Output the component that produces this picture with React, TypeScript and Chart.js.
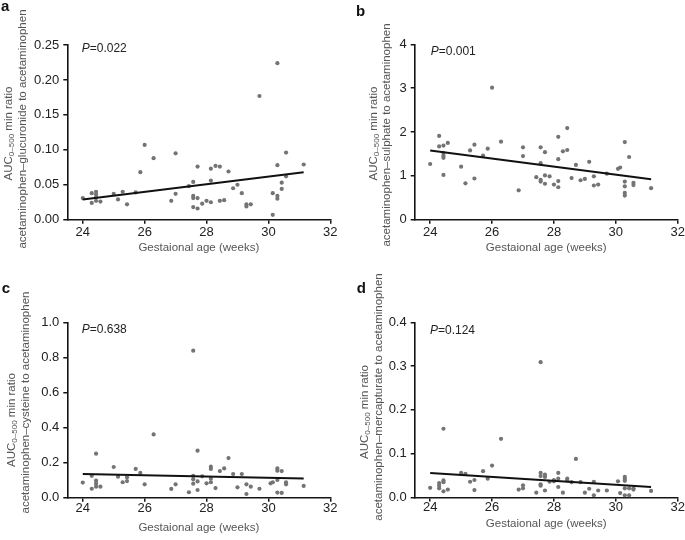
import React, { useEffect, useRef } from 'react';
import { Chart, registerables } from 'chart.js';

Chart.register(...registerables);

const FONT = '"Liberation Sans", Arial, Helvetica, sans-serif';
Chart.defaults.font.family = FONT;

// ---------- shared ----------
const xTicks = [24, 26, 28, 30, 32];
const xTickLabels = ['24', '26', '28', '30', '32'];
const fitX = [24.0, 31.14];
const xTitle = 'Gestaional age (weeks)';

// ---------- panel a ----------
const aX = [24.0, 24.29, 24.29, 24.43, 24.43, 24.43, 24.43, 24.57, 25.0, 25.14, 25.29, 25.43, 25.71, 25.86, 26.0, 26.29, 26.86, 27.0, 27.0, 27.43, 27.57, 27.57, 27.57, 27.57, 27.71, 27.71, 27.71, 27.86, 28.0, 28.14, 28.14, 28.14, 28.29, 28.43, 28.43, 28.57, 28.71, 28.86, 29.0, 29.14, 29.29, 29.29, 29.43, 29.71, 30.14, 30.14, 30.29, 30.29, 30.29, 30.29, 30.43, 30.43, 30.57, 30.57, 31.14];
const aY = [0.031, 0.038, 0.024, 0.040, 0.036, 0.032, 0.027, 0.026, 0.037, 0.029, 0.040, 0.022, 0.039, 0.068, 0.107, 0.088, 0.027, 0.095, 0.037, 0.048, 0.054, 0.034, 0.031, 0.018, 0.076, 0.031, 0.016, 0.023, 0.027, 0.073, 0.056, 0.025, 0.077, 0.076, 0.027, 0.028, 0.069, 0.045, 0.050, 0.038, 0.022, 0.019, 0.022, 0.177, 0.038, 0.007, 0.224, 0.078, 0.034, 0.030, 0.053, 0.044, 0.096, 0.062, 0.079];
const aFitY = [0.029, 0.068];
const aYTicks = [0, 0.05, 0.1, 0.15, 0.2, 0.25];
const aYTickLabels = ['0.00', '0.05', '0.10', '0.15', '0.20', '0.25'];

// ---------- panel b ----------
const bX = [24.0, 24.29, 24.29, 24.43, 24.43, 24.43, 24.43, 24.43, 24.57, 25.0, 25.14, 25.29, 25.43, 25.43, 25.71, 25.86, 26.0, 26.29, 26.86, 27.0, 27.0, 27.43, 27.57, 27.57, 27.57, 27.57, 27.71, 27.71, 27.71, 27.86, 28.0, 28.14, 28.14, 28.14, 28.14, 28.29, 28.43, 28.43, 28.57, 28.71, 28.86, 29.0, 29.14, 29.29, 29.29, 29.43, 29.71, 30.07, 30.14, 30.29, 30.29, 30.29, 30.29, 30.29, 30.43, 30.57, 30.57, 31.14];
const bY = [1.27, 1.91, 1.67, 1.69, 1.52, 1.46, 1.41, 1.02, 1.75, 1.21, 0.83, 1.58, 1.71, 0.94, 1.46, 1.62, 3.01, 1.78, 0.67, 1.65, 1.45, 0.97, 1.65, 1.29, 0.91, 0.87, 1.54, 1.01, 0.82, 0.99, 0.80, 1.89, 1.38, 0.88, 0.74, 1.56, 2.09, 1.59, 0.95, 1.25, 0.90, 0.93, 1.32, 0.99, 0.78, 0.80, 1.05, 1.16, 1.19, 1.77, 0.87, 0.76, 0.61, 0.55, 1.43, 0.84, 0.79, 0.72];
const bFitY = [1.58, 0.92];
const bYTicks = [0, 1, 2, 3, 4];
const bYTickLabels = ['0', '1', '2', '3', '4'];

// ---------- panel c ----------
const cX = [24.0, 24.29, 24.29, 24.43, 24.43, 24.43, 24.43, 24.57, 25.0, 25.14, 25.29, 25.43, 25.43, 25.71, 25.86, 26.0, 26.29, 26.86, 27.0, 27.43, 27.57, 27.57, 27.57, 27.57, 27.71, 27.71, 27.71, 27.86, 28.0, 28.14, 28.14, 28.14, 28.14, 28.29, 28.43, 28.57, 28.71, 28.86, 29.0, 29.14, 29.29, 29.29, 29.43, 29.71, 30.07, 30.14, 30.29, 30.29, 30.29, 30.29, 30.43, 30.43, 30.57, 30.57, 31.14];
const cY = [0.086, 0.125, 0.051, 0.251, 0.097, 0.080, 0.063, 0.063, 0.175, 0.120, 0.088, 0.116, 0.095, 0.164, 0.141, 0.076, 0.361, 0.050, 0.076, 0.031, 0.838, 0.125, 0.105, 0.080, 0.268, 0.093, 0.044, 0.122, 0.082, 0.177, 0.164, 0.108, 0.088, 0.055, 0.152, 0.167, 0.226, 0.135, 0.059, 0.135, 0.076, 0.021, 0.063, 0.051, 0.082, 0.088, 0.167, 0.154, 0.101, 0.029, 0.152, 0.027, 0.088, 0.076, 0.067];
const cFitY = [0.135, 0.11];
const cYTicks = [0, 0.2, 0.4, 0.6, 0.8, 1.0];
const cYTickLabels = ['0.0', '0.2', '0.4', '0.6', '0.8', '1.0'];

// ---------- panel d ----------
const dX = [24.0, 24.29, 24.29, 24.29, 24.43, 24.43, 24.43, 24.43, 24.57, 25.0, 25.14, 25.29, 25.43, 25.43, 25.71, 25.86, 26.0, 26.29, 26.86, 27.0, 27.0, 27.43, 27.57, 27.57, 27.57, 27.57, 27.57, 27.71, 27.71, 27.71, 27.86, 28.0, 28.0, 28.14, 28.14, 28.14, 28.29, 28.43, 28.43, 28.57, 28.71, 28.86, 29.0, 29.14, 29.29, 29.29, 29.43, 29.71, 30.07, 30.14, 30.29, 30.29, 30.29, 30.29, 30.29, 30.43, 30.43, 30.57, 30.57, 31.14];
const dY = [0.022, 0.033, 0.027, 0.021, 0.157, 0.039, 0.035, 0.014, 0.018, 0.056, 0.054, 0.036, 0.040, 0.017, 0.060, 0.043, 0.073, 0.134, 0.018, 0.028, 0.021, 0.011, 0.309, 0.056, 0.049, 0.030, 0.027, 0.052, 0.047, 0.016, 0.036, 0.040, 0.037, 0.056, 0.043, 0.024, 0.011, 0.043, 0.039, 0.035, 0.088, 0.035, 0.011, 0.020, 0.036, 0.005, 0.016, 0.016, 0.037, 0.010, 0.047, 0.042, 0.038, 0.021, 0.005, 0.021, 0.005, 0.021, 0.018, 0.015];
const dFitY = [0.056, 0.024];
const dYTicks = [0, 0.1, 0.2, 0.3, 0.4];
const dYTickLabels = ['0.0', '0.1', '0.2', '0.3', '0.4'];

const CW = 345;
const CH = 270;

type PanelDef = {
  left: number; top: number;
  xs: number[]; ys: number[]; fitY: number[];
  yTicks: number[]; yLabels: string[]; yMax: number;
  area: { left: number; top: number; right: number; bottom: number };
  xTickPad: number;
  letter: string; letterX: number; letterY: number;
  pValue: string; pX: number; pY: number;
  yLine2: string;
  y1X: number; y1Y: number; y2X: number; y2Y: number;
  xTitleY: number;
};

const panels: PanelDef[] = [
  {
    left: 0, top: 0, xs: aX, ys: aY, fitY: aFitY, yTicks: aYTicks, yLabels: aYTickLabels, yMax: 0.25,
    area: { left: 67.3, top: 45, right: 330.3, bottom: 219.7 }, xTickPad: 1,
    letter: 'a', letterX: 1, letterY: 11, pValue: '0.022', pX: 81.7, pY: 48.3,
    yLine2: 'acetaminophen\u2013glucuronide to acetaminophen',
    y1X: 8.8, y1Y: 133.5, y2X: 22.5, y2Y: 129, xTitleY: 247.5,
  },
  {
    left: 345, top: 0, xs: bX, ys: bY, fitY: bFitY, yTicks: bYTicks, yLabels: bYTickLabels, yMax: 4,
    area: { left: 69.7, top: 44.3, right: 332.7, bottom: 219.7 }, xTickPad: 1,
    letter: 'b', letterX: 11, letterY: 16, pValue: '0.001', pX: 85.7, pY: 51.7,
    yLine2: 'acetaminophen\u2013sulphate to acetaminophen',
    y1X: 29, y1Y: 133.5, y2X: 41.7, y2Y: 135, xTitleY: 247.5,
  },
  {
    left: 0, top: 270, xs: cX, ys: cY, fitY: cFitY, yTicks: cYTicks, yLabels: cYTickLabels, yMax: 1.0,
    area: { left: 67.3, top: 52.3, right: 330.3, bottom: 227.7 }, xTickPad: -1,
    letter: 'c', letterX: 1.7, letterY: 22.7, pValue: '0.638', pX: 81.7, pY: 60,
    yLine2: 'acetaminophen\u2013cysteine to acetaminophen',
    y1X: 12, y1Y: 150, y2X: 25.5, y2Y: 132.5, xTitleY: 258,
  },
  {
    left: 345, top: 270, xs: dX, ys: dY, fitY: dFitY, yTicks: dYTicks, yLabels: dYTickLabels, yMax: 0.4,
    area: { left: 69.7, top: 52.3, right: 332.7, bottom: 227.5 }, xTickPad: -2,
    letter: 'd', letterX: 11.7, letterY: 23.3, pValue: '0.124', pX: 85, pY: 61,
    yLine2: 'acetaminophen\u2013mercapturate to acetaminophen',
    y1X: 19.7, y1Y: 142, y2X: 34.2, y2Y: 127, xTitleY: 254,
  },
];

const textPlugin = {
  id: 'panelText',
  afterDraw(chart: any, _args: any, opts: any) {
    const ctx: CanvasRenderingContext2D = chart.ctx;
    const area = chart.chartArea;
    ctx.save();
    // panel letter
    ctx.fillStyle = '#111';
    ctx.textAlign = 'left';
    ctx.textBaseline = 'alphabetic';
    ctx.font = `bold 15px ${FONT}`;
    ctx.fillText(opts.letter, opts.letterX, opts.letterY);
    // P value
    ctx.textBaseline = 'middle';
    ctx.fillStyle = '#222';
    ctx.font = `italic 12px ${FONT}`;
    ctx.fillText('P', opts.pX, opts.pY);
    const pw = ctx.measureText('P').width;
    ctx.font = `12px ${FONT}`;
    ctx.fillText('=' + opts.pValue, opts.pX + pw, opts.pY);
    // x title
    ctx.fillStyle = '#555';
    ctx.font = `11.5px ${FONT}`;
    ctx.textAlign = 'center';
    ctx.fillText(opts.xTitle, (area.left + area.right) / 2, opts.xTitleY);
    // y title line 1 (with subscript)
    const parts = [
      { text: 'AUC', size: 11.5, dy: 0 },
      { text: '0\u2013500', size: 8, dy: 3 },
      { text: ' min ratio', size: 11.5, dy: 0 },
    ];
    ctx.save();
    ctx.translate(opts.y1X, opts.y1Y);
    ctx.rotate(-Math.PI / 2);
    ctx.textAlign = 'left';
    let total = 0;
    for (const p of parts) {
      ctx.font = `${p.size}px ${FONT}`;
      total += ctx.measureText(p.text).width;
    }
    let x = -total / 2;
    for (const p of parts) {
      ctx.font = `${p.size}px ${FONT}`;
      ctx.fillText(p.text, x, p.dy);
      x += ctx.measureText(p.text).width;
    }
    ctx.restore();
    // y title line 2
    ctx.save();
    ctx.translate(opts.y2X, opts.y2Y);
    ctx.rotate(-Math.PI / 2);
    ctx.textAlign = 'center';
    ctx.font = `11.5px ${FONT}`;
    ctx.fillText(opts.yLine2, 0, 0);
    ctx.restore();
    ctx.restore();
  },
};

const AXIS = '#141414';

function Panel({ p }: { p: PanelDef }) {
  const ref = useRef<HTMLCanvasElement>(null);
  useEffect(() => {
    const XH = 25;
    const chart = new Chart(ref.current as HTMLCanvasElement, {
      type: 'scatter',
      data: {
        datasets: [
          {
            type: 'line',
            data: fitX.map((x, i) => ({ x, y: p.fitY[i] })),
            borderColor: '#111',
            borderWidth: 2,
            pointRadius: 0,
            fill: false,
            order: 0,
          } as any,
          {
            type: 'scatter',
            data: p.xs.map((x, i) => ({ x, y: p.ys[i] })),
            backgroundColor: '#747474',
            borderWidth: 0,
            pointRadius: 2.1,
            order: 1,
          } as any,
        ],
      },
      options: {
        responsive: false,
        animation: false,
        events: [],
        layout: {
          padding: {
            left: 0,
            top: p.area.top,
            right: CW - p.area.right,
            bottom: CH - p.area.bottom - XH,
          },
        },
        plugins: {
          legend: { display: false },
          tooltip: { enabled: false },
          panelText: {
            letter: p.letter, letterX: p.letterX, letterY: p.letterY,
            pValue: p.pValue, pX: p.pX, pY: p.pY,
            xTitle, xTitleY: p.xTitleY,
            yLine2: p.yLine2, y1X: p.y1X, y1Y: p.y1Y, y2X: p.y2X, y2Y: p.y2Y,
          },
        } as any,
        scales: {
          x: {
            type: 'linear',
            min: 23.5,
            max: 32,
            afterFit: (s: any) => { s.height = XH; },
            afterBuildTicks: (s: any) => { s.ticks = xTicks.map((v) => ({ value: v })); },
            ticks: {
              callback: (_v: any, i: number) => xTickLabels[i],
              font: { size: 13 },
              color: '#222',
              padding: p.xTickPad,
              maxRotation: 0,
              autoSkip: false,
            },
            grid: { drawOnChartArea: false, drawTicks: true, tickLength: 4, color: AXIS, lineWidth: 1.5 },
            border: { display: true, color: AXIS, width: 1.6 },
          },
          y: {
            type: 'linear',
            min: 0,
            max: p.yMax,
            afterFit: (s: any) => { s.width = p.area.left; },
            afterBuildTicks: (s: any) => { s.ticks = p.yTicks.map((v) => ({ value: v })); },
            ticks: {
              callback: (_v: any, i: number) => p.yLabels[i],
              font: { size: 13 },
              color: '#222',
              padding: 4,
              autoSkip: false,
            },
            grid: { drawOnChartArea: false, drawTicks: true, tickLength: 4, color: AXIS, lineWidth: 1.5 },
            border: { display: true, color: AXIS, width: 1.6 },
          },
        },
      } as any,
      plugins: [textPlugin as any],
    });
    return () => chart.destroy();
  }, [p]);
  return (
    <canvas
      ref={ref}
      width={CW}
      height={CH}
      style={{ position: 'absolute', left: p.left, top: p.top, width: CW, height: CH }}
    />
  );
}

export default function App() {
  return (
    <div
      style={{
        position: 'absolute', left: 0, top: 0, width: 685, height: 540,
        overflow: 'hidden', background: '#fff',
      }}
    >
      {panels.map((p) => (
        <Panel key={p.letter} p={p} />
      ))}
    </div>
  );
}
